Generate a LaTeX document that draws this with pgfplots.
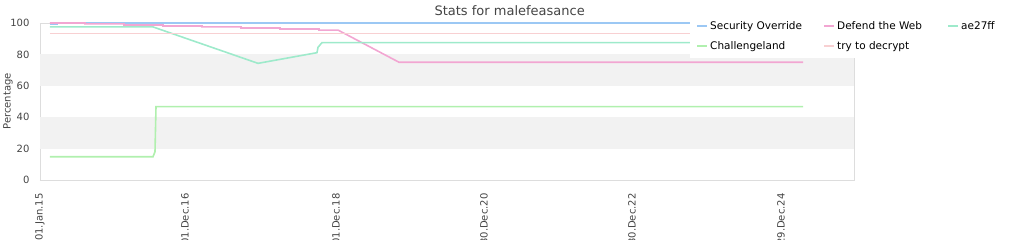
\documentclass[border=0pt]{standalone}
\usepackage{fontspec}
\setmainfont{DejaVu Sans}
\usepackage{pgfplots}
\pgfplotsset{compat=1.18}
\definecolor{cSO}{HTML}{9CC8F4}
\definecolor{cDW}{HTML}{F2A6D2}
\definecolor{cAE}{HTML}{9EEACB}
\definecolor{cCL}{HTML}{B0F0AE}
\definecolor{cTD}{HTML}{F8D0D2}
\definecolor{cGrid}{HTML}{DDDDDD}
\definecolor{cBand}{HTML}{F2F2F2}
\definecolor{cText}{HTML}{444444}
\begin{document}
\begin{tikzpicture}
\begin{axis}[
  scale only axis,
  width=814pt, height=157pt,
  xmin=40, xmax=854, ymin=0, ymax=100,
  axis line style={cGrid},
  ytick={0,20,40,60,80,100},
  ymajorgrids, grid style={cGrid, line width=0.8pt},
  xtick={40,185,336,484,632,781},
  xticklabels={01.Jan.15,01.Dec.16,01.Dec.18,30.Dec.20,30.Dec.22,29.Dec.24},
  major tick length=0pt,
  xticklabel shift=10pt,
  yticklabel shift=7pt,
  xticklabel style={rotate=90, anchor=east, font=\fontsize{10}{12}\selectfont, text=cText},
  yticklabel style={font=\fontsize{10}{12}\selectfont, text=cText},
  /pgf/number format/assume math mode=true,
  ylabel={Percentage},
  ylabel style={at={(axis description cs:-0.0393,0.5)}, anchor=center, font=\fontsize{10}{12}\selectfont, text=cText},
  title={Stats for malefeasance},
  title style={at={(0.577,1)}, anchor=center, yshift=6pt, font=\fontsize{13}{15}\selectfont, text=cText},
  legend columns=3,
  legend cell align=left,
  legend style={at={(0.7985,1.057)}, anchor=north west, draw=none, fill=white,
    font=\fontsize{10.5}{12}\selectfont, text=black, column sep=0pt, row sep=7pt,
    inner xsep=6pt, inner ysep=5pt},
  legend image code/.code={\draw[#1, line width=2pt] (0pt,0pt) -- (10pt,0pt);},
  every axis plot/.append style={line width=1.6pt},
  clip=true,
]
\fill[cBand] (axis cs:40,20) rectangle (axis cs:854,40);
\fill[cBand] (axis cs:40,60) rectangle (axis cs:854,80);
\addplot[cSO] coordinates {(50,99) (57,99) (57,100) (690,100)};
\addlegendentry{\makebox[111pt][l]{Security Override}}
\addplot[cDW] coordinates {(50,100) (85,100) (85,99.4) (124,99.4) (124,98.7) (163,98.7) (163,98.1) (202,98.1) (202,97.5) (241,97.5) (241,96.8) (280,96.8) (280,96.2) (319,96.2) (319,95.5) (338,95.5) (399,75) (803,75)};
\addlegendentry{\makebox[108pt][l]{Defend the Web}}
\addplot[cAE] coordinates {(50,97.5) (153,97.5) (258,74.3) (317,81.1) (318,84.5) (322,87.5) (690,87.5)};
\addlegendentry{ae27ff}
\addplot[cCL] coordinates {(50,14.8) (153,14.8) (155,18) (156,46.7) (803,46.7)};
\addlegendentry{Challengeland}
\addplot[cTD] coordinates {(50,93.2) (690,93.2)};
\addlegendentry{try to decrypt}
\end{axis}
\pgfresetboundingbox
\useasboundingbox (-40pt,-60pt) rectangle (984pt,180pt);
\end{tikzpicture}
\end{document}
